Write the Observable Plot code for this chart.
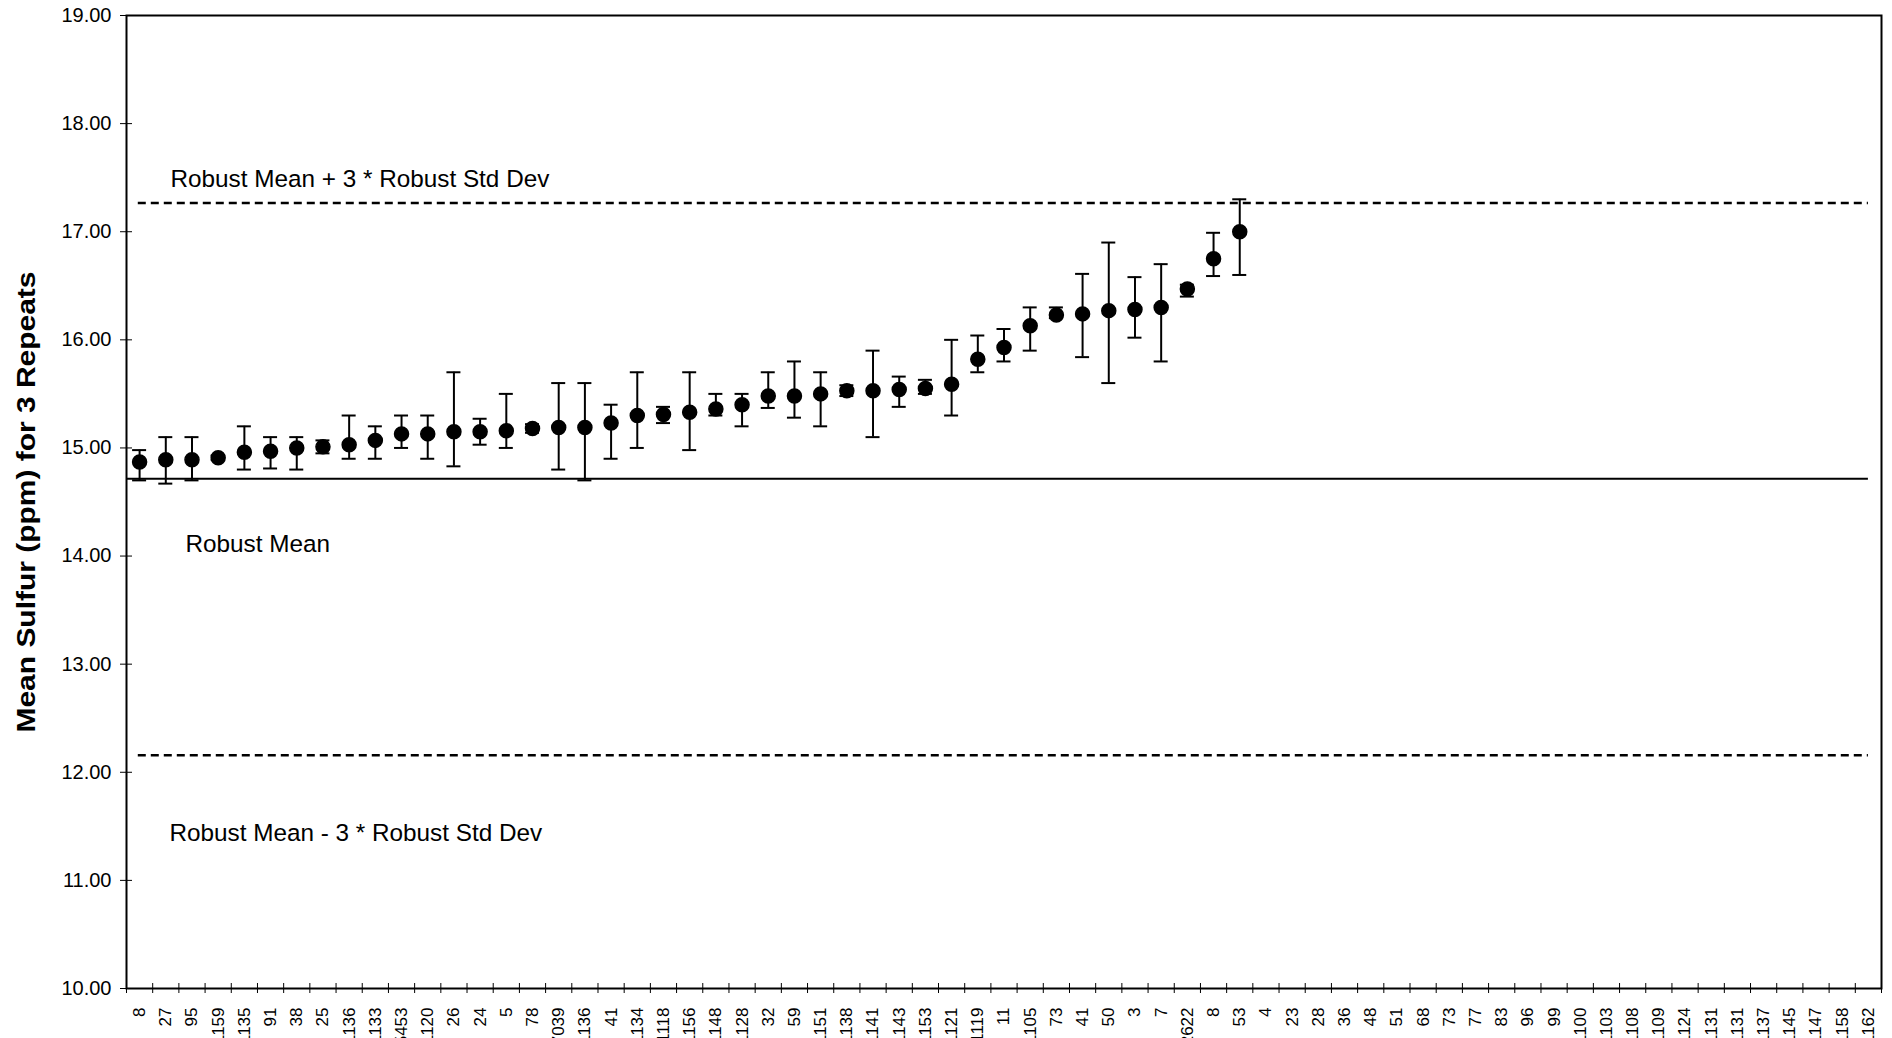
<!DOCTYPE html>
<html>
<head>
<meta charset="utf-8">
<script src="https://cdn.jsdelivr.net/npm/d3@7"></script>
<script src="https://cdn.jsdelivr.net/npm/@observablehq/plot@0.6"></script>
<style>
  html, body { margin: 0; padding: 0; background: #fff; overflow: hidden; }
  #chart { width: 1892px; height: 1038px; overflow: hidden; }
</style>
</head>
<body>
<div id="chart"></div>
<script>
// Category (lab) labels along the x axis
const labs = ["8","27","95","1159","1135","91","38","25","1136","1133","5453","1120","26","24","5","78","7039","1136","41","1134","1118","1156","1148","1128","32","59","1151","1138","1141","1143","1153","1121","1119","11","1105","73","41","50","3","7","2622","8","53","4","23","28","36","48","51","68","73","77","83","96","99","1100","1103","1108","1109","1124","1131","1131","1137","1145","1147","1158","1162"];

// Mean sulfur for 3 repeats (first 43 labs)
const means = [14.87,14.89,14.89,14.91,14.96,14.97,15.00,15.01,15.03,15.07,15.13,15.13,15.15,15.15,15.16,15.18,15.19,15.19,15.23,15.30,15.31,15.33,15.36,15.40,15.48,15.48,15.50,15.53,15.53,15.54,15.55,15.59,15.82,15.93,16.13,16.23,16.24,16.27,16.28,16.30,16.47,16.75,17.00];
// Low / high of the 3 repeats (error bar ends)
const lows  = [14.70,14.67,14.70,14.89,14.80,14.81,14.80,14.95,14.90,14.90,15.00,14.90,14.83,15.03,15.00,15.14,14.80,14.70,14.90,15.00,15.23,14.98,15.30,15.20,15.37,15.28,15.20,15.48,15.10,15.38,15.50,15.30,15.70,15.80,15.90,16.20,15.84,15.60,16.02,15.80,16.40,16.59,16.60];
const highs = [14.98,15.10,15.10,14.93,15.20,15.10,15.10,15.07,15.30,15.20,15.30,15.30,15.70,15.27,15.50,15.22,15.60,15.60,15.40,15.70,15.38,15.70,15.50,15.50,15.70,15.80,15.70,15.58,15.90,15.66,15.63,16.00,16.04,16.10,16.30,16.30,16.61,16.90,16.58,16.70,16.51,16.99,17.30];

// Reference statistics
const robustMean = 14.715;
const upperLimit = 17.266;
const lowerLimit = 12.157;

const yTicks = [10,11,12,13,14,15,16,17,18,19];
const yTitle = "Mean Sulfur (ppm) for 3 Repeats";

const annotations = [
  {x: 1.68, y: 17.41, text: "Robust Mean + 3 * Robust Std Dev"},
  {x: 2.25, y: 14.035, text: "Robust Mean"},
  {x: 1.64, y: 11.36, text: "Robust Mean - 3 * Robust Std Dev"}
];

const points = means.map((m, i) => ({x: i + 0.5, mean: m, lo: lows[i], hi: highs[i]}));
const bounds = d3.range(labs.length + 1);
const centers = labs.map((_, i) => i + 0.5);

const chart = Plot.plot({
  width: 1892,
  height: 1052,
  marginLeft: 126,
  marginRight: 11,
  marginTop: 15,
  marginBottom: 64,
  style: {fontFamily: "'Liberation Sans', Arial, sans-serif", background: "#fff", color: "#000"},
  x: {type: "linear", domain: [0, labs.length]},
  y: {type: "linear", domain: [10, 19]},
  marks: [
    // reference lines
    Plot.ruleY([robustMean], {y: d => d, x1: () => 0, x2: () => 66.5, stroke: "#000", strokeWidth: 2}),
    Plot.ruleY([upperLimit, lowerLimit], {y: d => d, x1: () => 0.45, x2: () => 66.5, stroke: "#000", strokeWidth: 2.5, strokeDasharray: "8,5"}),
    // error bars
    Plot.ruleX(points, {x: "x", y1: "lo", y2: "hi", stroke: "#000", strokeWidth: 2}),
    Plot.ruleY(points, {y: "lo", x1: "x", x2: "x", insetLeft: -7, insetRight: -7, stroke: "#000", strokeWidth: 2}),
    Plot.ruleY(points, {y: "hi", x1: "x", x2: "x", insetLeft: -7, insetRight: -7, stroke: "#000", strokeWidth: 2}),
    Plot.dot(points, {x: "x", y: "mean", r: 7, fill: "#000", stroke: "#000"}),
    // frame
    Plot.frame({stroke: "#000", strokeWidth: 2}),
    // y axis
    Plot.ruleY(yTicks, {y: d => d, x1: () => 0, x2: () => 0, insetLeft: -6, insetRight: -6, stroke: "#000", strokeWidth: 1}),
    Plot.axisY(yTicks, {tickSize: 0, tickPadding: 15, tickFormat: d3.format(".2f"), fontSize: 20, label: null}),
    // x axis
    Plot.ruleX(bounds, {x: d => d, y1: () => 10, y2: () => 10, insetTop: -5, insetBottom: -5, stroke: "#000", strokeWidth: 1}),
    Plot.axisX(centers, {tickSize: 0, tickPadding: 19, tickRotate: -90, tickFormat: d => labs[Math.floor(d)], fontSize: 17, label: null}),
    // annotations
    Plot.text(annotations, {x: "x", y: "y", text: "text", textAnchor: "start", lineAnchor: "bottom", fontSize: 24.3, fill: "#000"}),
    // y title
    Plot.text([yTitle], {frameAnchor: "left", textAnchor: "middle", rotate: -90, dx: -100, fontSize: 25, fontWeight: "bold", fill: "#000"})
  ]
});
document.getElementById("chart").appendChild(chart);
// the reference title is drawn slightly stretched along its length
chart.querySelectorAll("text").forEach(t => {
  if (t.textContent === yTitle) {
    t.setAttribute("textLength", "461");
    t.setAttribute("lengthAdjust", "spacingAndGlyphs");
  }
});
</script>
</body>
</html>
